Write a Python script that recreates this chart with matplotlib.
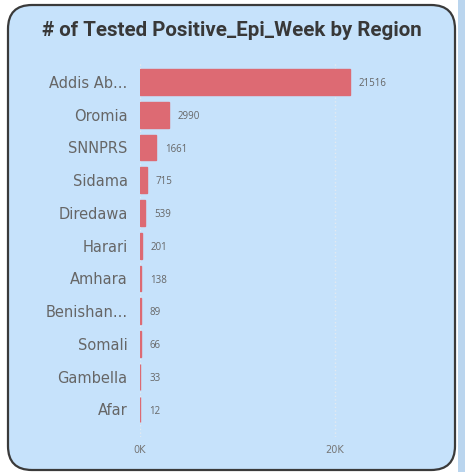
import matplotlib
matplotlib.use("Agg")
import matplotlib.pyplot as plt
from matplotlib.patches import FancyBboxPatch, Rectangle

# Data
regions = ['Addis Ab...', 'Oromia', 'SNNPRS', 'Sidama', 'Diredawa', 'Harari',
           'Amhara', 'Benishan...', 'Somali', 'Gambella', 'Afar']
positives = [21516, 2990, 1661, 715, 539, 201, 138, 89, 66, 33, 12]
xticks = [0, 20000]
xtick_labels = ['0K', '20K']

W, H = 465, 472
fig = plt.figure(figsize=(W / 100, H / 100), dpi=100)
fig.patch.set_facecolor('white')

# background axes holding the card
bg = fig.add_axes([0, 0, 1, 1])
bg.set_xlim(0, W)
bg.set_ylim(H, 0)
bg.axis('off')
bg.add_patch(FancyBboxPatch((8, 5), 447, 465,
                            boxstyle="round,pad=0,rounding_size=24",
                            facecolor='#c6e2fb', edgecolor='#3a3a3a', linewidth=1.6))
bg.add_patch(Rectangle((458, 0), 7, H, facecolor='#bad5ee', edgecolor='none'))
bg.text(232, 31, '# of Tested Positive_Epi_Week by Region',
        ha='center', va='center', fontsize=14.8, fontweight='bold',
        color='#383838', family='Roboto')

ax = fig.add_axes([140 / W, 1 - 437 / H, 280 / W, 375 / H])
ax.set_facecolor('none')
y = range(len(regions))
ax.barh(y, positives, height=0.79, color='#dd6a73',
        edgecolor='#dd6a73', linewidth=1.0, zorder=2)
ax.set_xlim(0, 28700)
ax.set_ylim(10.84, -0.61)

for i, v in enumerate(positives):
    ax.text(v + 900, i + 0.05, str(v), va='center', ha='left', fontsize=7,
            color='#666666', family='Open Sans')

ax.set_yticks(list(y))
ax.set_yticklabels(regions, fontsize=10.5, color='#666666')
ax.set_xticks(xticks)
ax.set_xticklabels(xtick_labels, fontsize=7, color='#777777')
ax.tick_params(axis='y', length=0, pad=9)
ax.tick_params(axis='x', length=0, pad=6)
for x in xticks:
    ax.axvline(x, color='#e4eaf0', linestyle=':', linewidth=1.0, zorder=0)
for s in ax.spines.values():
    s.set_visible(False)

plt.savefig('out.png', dpi=100)
